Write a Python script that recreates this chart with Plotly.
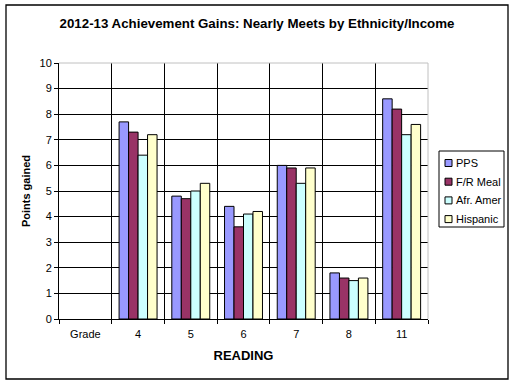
import plotly.graph_objects as go

categories = ["Grade", "4", "5", "6", "7", "8", "11"]
series_names = ["PPS", "F/R Meal", "Afr. Amer", "Hispanic"]
pps = [None, 7.7, 4.8, 4.4, 6.0, 1.8, 8.6]
fr_meal = [None, 7.3, 4.7, 3.6, 5.9, 1.6, 8.2]
afr_amer = [None, 6.4, 5.0, 4.1, 5.3, 1.5, 7.2]
hispanic = [None, 7.2, 5.3, 4.2, 5.9, 1.6, 7.6]
colors = ["#9999FF", "#993366", "#CCFFFF", "#FFFFCC"]
y_ticks = list(range(0, 11))

FONT = "Arial, Liberation Sans, sans-serif"

# plot area in pixels (for converting overlay positions to paper coords)
PL, PR, PT, PB = 59, 428, 63, 319
W, H = 514, 384


def px_x(x):
    return (x - PL) / (PR - PL)


def px_y(y):
    return (PB - y) / (PB - PT)


fig = go.Figure()
for name, vals, col in zip(series_names, [pps, fr_meal, afr_amer, hispanic], colors):
    fig.add_trace(go.Bar(
        x=categories, y=vals, name=name, showlegend=False,
        marker=dict(color=col, line=dict(color="black", width=1)),
    ))

fig.update_layout(
    width=W, height=H,
    margin=dict(l=PL, r=W - PR, t=PT, b=H - PB, autoexpand=False),
    paper_bgcolor="white", plot_bgcolor="white",
    barmode="group", bargap=0.28, bargroupgap=0,
    font=dict(family=FONT, size=11, color="black"),
    title=dict(text="<b>2012-13 Achievement Gains: Nearly Meets by Ethnicity/Income</b>",
               x=0.5, xref="container", xanchor="center",
               y=1 - 23 / H, yref="container", yanchor="middle",
               font=dict(family=FONT, size=13.3, color="black")),
    xaxis=dict(type="category", categoryorder="array", categoryarray=categories,
               tickson="boundaries", ticks="outside", ticklen=4, tickcolor="black",
               ticklabelstandoff=5,
               showgrid=True, gridcolor="black", gridwidth=1,
               showline=True, linecolor="black", linewidth=1, automargin=False,
               tickfont=dict(family=FONT, size=11, color="black"),
               title=dict(text="<b>READING</b>", standoff=11,
                          font=dict(family=FONT, size=13, color="black"))),
    yaxis=dict(range=[0, 10], tickvals=y_ticks, ticks="outside", ticklen=4, tickcolor="black",
               showgrid=True, gridcolor="black", gridwidth=1, zeroline=False,
               showline=True, linecolor="black", linewidth=1, automargin=False,
               tickfont=dict(family=FONT, size=11, color="black"),
               title=dict(text="<b>Points gained</b>", standoff=6,
                          font=dict(family=FONT, size=11, color="black"))),
)

# plot-area border on top and right (light gray)
fig.add_shape(type="line", xref="x domain", yref="y domain", x0=0, x1=1, y0=1, y1=1,
              line=dict(color="#C0C0C0", width=1))
fig.add_shape(type="line", xref="x domain", yref="y domain", x0=1, x1=1, y0=0, y1=1,
              line=dict(color="#C0C0C0", width=1))
# outer chart border
fig.add_shape(type="rect", xref="paper", yref="paper",
              x0=px_x(6), x1=px_x(508), y0=px_y(379), y1=px_y(5),
              line=dict(color="black", width=1.3), fillcolor="rgba(0,0,0,0)")

# legend box (Excel-style, compact)
fig.add_shape(type="rect", xref="paper", yref="paper",
              x0=px_x(439), x1=px_x(504), y0=px_y(227), y1=px_y(151),
              line=dict(color="black", width=1), fillcolor="white")
for i, (name, col) in enumerate(zip(series_names, colors)):
    cy = 163 + i * 18.7
    fig.add_shape(type="rect", xref="paper", yref="paper",
                  x0=px_x(445), x1=px_x(452), y0=px_y(cy + 3.5), y1=px_y(cy - 3.5),
                  line=dict(color="black", width=1), fillcolor=col)
    fig.add_annotation(xref="paper", yref="paper", x=px_x(454), y=px_y(cy),
                       xanchor="left", yanchor="middle", showarrow=False, text=name,
                       font=dict(family=FONT, size=11, color="black"))

fig.write_html("out.html",
               config={"displayModeBar": False},
               post_script="document.body.style.margin='0';document.body.style.overflow='hidden';")
